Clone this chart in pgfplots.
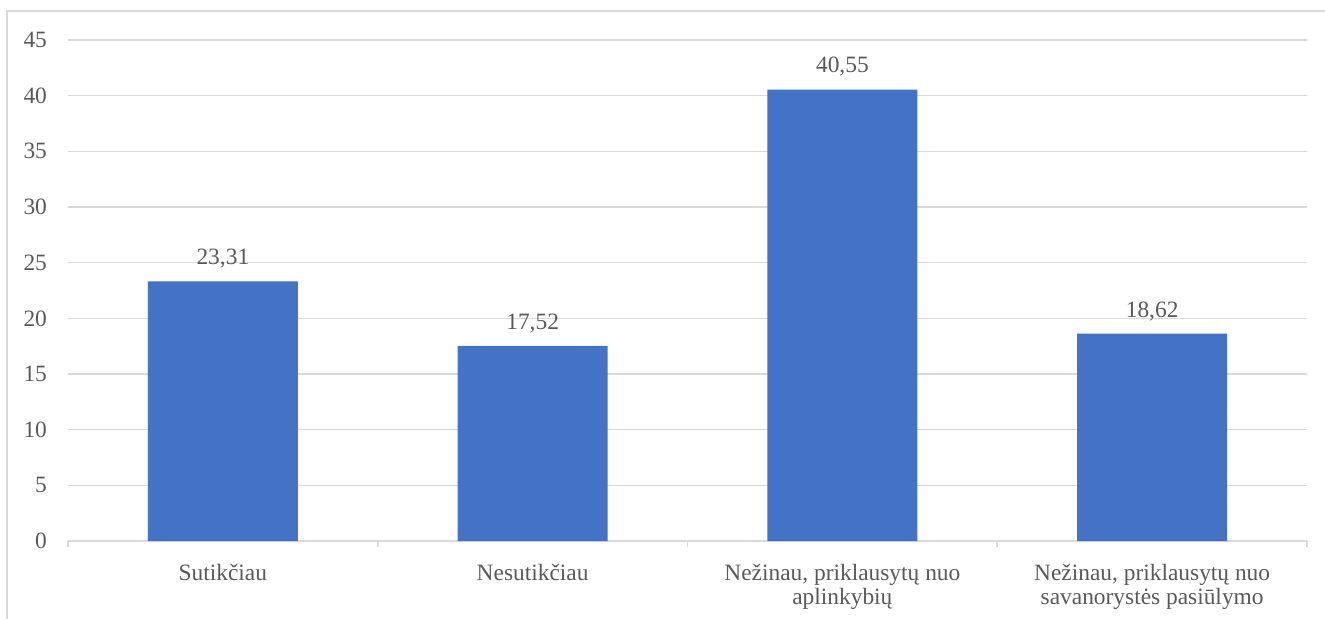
\documentclass[border=0pt]{standalone}
\usepackage{pgfplots}
\pgfplotsset{compat=1.18}
\usepackage{fontspec}
\setmainfont{Liberation Serif}
\definecolor{barblue}{HTML}{4472C4}
\definecolor{txt}{HTML}{595959}
\definecolor{gridc}{HTML}{D9D9D9}
\begin{document}
\begin{tikzpicture}
\useasboundingbox (-34pt,-38.5pt) rectangle (628.5pt,270.5pt);
\draw[gridc, line width=0.8pt] (-30.5pt,-40pt) -- (-30.5pt,265pt) -- (640pt,265pt);
\begin{axis}[
  at={(0,0)}, anchor=south west,
  scale only axis, width=619.5pt, height=250.5pt,
  ymin=0, ymax=45, ytick={0,5,...,45},
  xmin=-0.5, xmax=3.5,
  xtick={0,1,2,3},
  xtick pos=bottom,
  xticklabels={Sutikčiau, Nesutikčiau, {Nežinau, priklausytų nuo\\aplinkybių}, {Nežinau, priklausytų nuo\\savanorystės pasiūlymo}},
  x tick label style={align=center, text=txt, font=\fontsize{11.7}{12}\selectfont, yshift=-8pt},
  y tick label style={text=txt, font=\fontsize{11.7}{12}\selectfont, xshift=-7pt, /pgf/number format/assume math mode=true},
  major tick length=0pt,
  axis line style={draw=none},
  ymajorgrids, grid style={gridc, line width=0.8pt},
  extra x ticks={-0.5,0.5,1.5,2.5,3.5},
  extra x tick labels={},
  extra x tick style={xtick pos=bottom, tick align=outside, major tick length=3pt, tick style={gridc, line width=0.8pt}, grid=none},
  ybar, bar width=75pt,
  nodes near coords={\pgfmathprintnumber[assume math mode=true, use comma, fixed, fixed zerofill, precision=2]{\pgfplotspointmeta}},
  every node near coord/.append style={text=txt, font=\fontsize{11.7}{12}\selectfont, yshift=3pt},
]
\addplot[fill=barblue, draw=none] coordinates {(0,23.31) (1,17.52) (2,40.55) (3,18.62)};
\end{axis}
\end{tikzpicture}
\end{document}
